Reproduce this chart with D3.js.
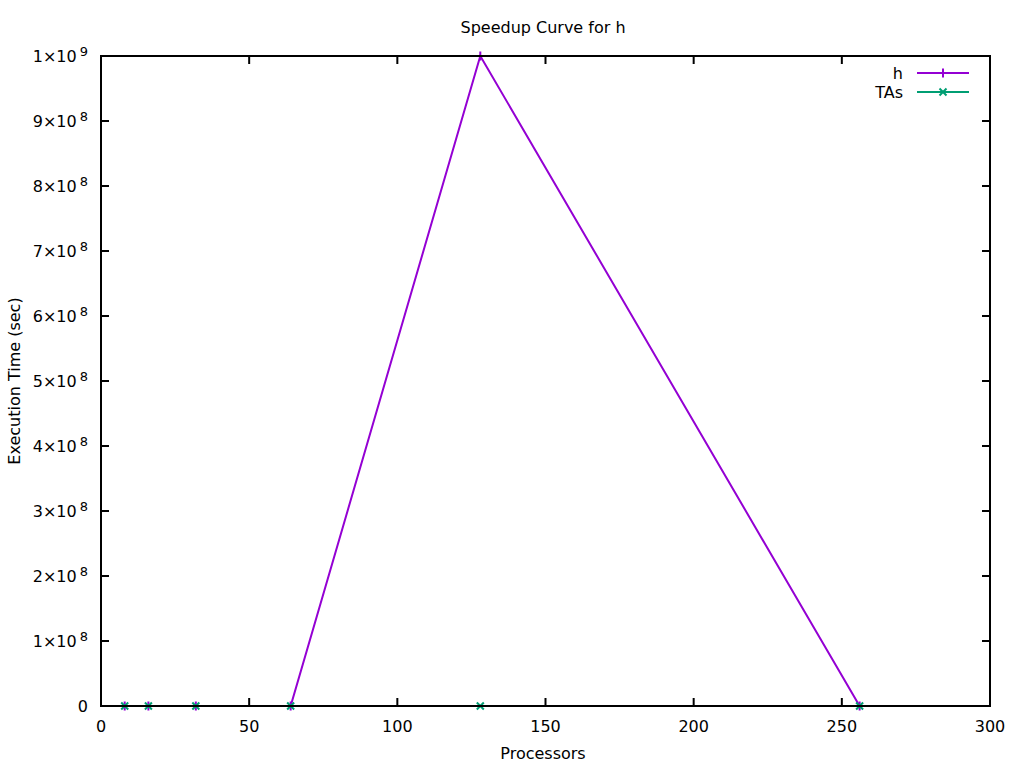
<!DOCTYPE html>
<html>
<head>
<meta charset="utf-8">
<script src="https://cdn.jsdelivr.net/npm/d3@7"></script>
<style>
  body { margin: 0; background: #fff; }
  text { font-family: "DejaVu Sans", sans-serif; font-size: 16px; fill: #000; }
</style>
</head>
<body>
<svg id="chart" width="1024" height="768"></svg>
<script>
var processors = [8, 16, 32, 64, 128, 256];
var hTimes = [0, 0, 0, 0, 1e9, 0];
var taTimes = [0, 0, 0, 0, 0, 0];
var xTicks = [0, 50, 100, 150, 200, 250, 300];
var yTicks = [0, 1e8, 2e8, 3e8, 4e8, 5e8, 6e8, 7e8, 8e8, 9e8, 1e9];

var plotLeft = 101, plotRight = 990, plotTop = 56, plotBottom = 706;
var tickLen = 8;

var svg = d3.select("#chart");
var x = d3.scaleLinear().domain([0, 300]).range([plotLeft, plotRight]);
var y = d3.scaleLinear().domain([0, 1e9]).range([plotBottom, plotTop]);

var series = [
  { name: "h", color: "#9400d3", marker: "plus", values: hTimes },
  { name: "TAs", color: "#009e73", marker: "cross", values: taTimes }
];

// title and axis labels
svg.append("text").attr("x", 543).attr("y", 33)
  .attr("text-anchor", "middle").text("Speedup Curve for h");
svg.append("text").attr("x", 543).attr("y", 759)
  .attr("text-anchor", "middle").text("Processors");
svg.append("text")
  .attr("transform", "translate(20," + ((plotTop + plotBottom) / 2) + ") rotate(-90)")
  .attr("text-anchor", "middle").text("Execution Time (sec)");

// series
var line = d3.line()
  .x(function(d) { return x(d[0]); })
  .y(function(d) { return y(d[1]); });

function drawMarker(g, cx, cy, kind, color) {
  var s = kind == "plus" ? 4.5 : 3.5;
  var p = kind == "plus"
    ? "M" + (cx - s) + "," + cy + "H" + (cx + s) + "M" + cx + "," + (cy - s) + "V" + (cy + s)
    : "M" + (cx - s) + "," + (cy - s) + "L" + (cx + s) + "," + (cy + s) +
      "M" + (cx - s) + "," + (cy + s) + "L" + (cx + s) + "," + (cy - s);
  g.append("path").attr("d", p).attr("stroke", color)
    .attr("stroke-width", 2).attr("fill", "none");
}

series.forEach(function(s) {
  var pts = processors.map(function(p, i) { return [p, s.values[i]]; });
  var g = svg.append("g");
  g.append("path").datum(pts).attr("d", line)
    .attr("fill", "none").attr("stroke", s.color).attr("stroke-width", 2);
  pts.forEach(function(d) {
    drawMarker(g, x(d[0]), y(d[1]), s.marker, s.color);
  });
});

// border
svg.append("rect").attr("x", plotLeft).attr("y", plotTop)
  .attr("width", plotRight - plotLeft).attr("height", plotBottom - plotTop)
  .attr("fill", "none").attr("stroke", "#000").attr("stroke-width", 2);

// x ticks (bottom and mirrored top)
xTicks.forEach(function(t) {
  var xp = x(t);
  if (t > 0 && t < 300) {
    svg.append("line").attr("x1", xp).attr("x2", xp)
      .attr("y1", plotBottom).attr("y2", plotBottom - tickLen)
      .attr("stroke", "#000").attr("stroke-width", 2);
    svg.append("line").attr("x1", xp).attr("x2", xp)
      .attr("y1", plotTop).attr("y2", plotTop + tickLen)
      .attr("stroke", "#000").attr("stroke-width", 2);
  }
  svg.append("text").attr("x", xp).attr("y", plotBottom + 26)
    .attr("text-anchor", "middle").text(t);
});

// y ticks (left and mirrored right)
yTicks.forEach(function(t) {
  var yp = y(t);
  if (t > 0 && t < 1e9) {
    svg.append("line").attr("x1", plotLeft).attr("x2", plotLeft + tickLen)
      .attr("y1", yp).attr("y2", yp)
      .attr("stroke", "#000").attr("stroke-width", 2);
    svg.append("line").attr("x1", plotRight).attr("x2", plotRight - tickLen)
      .attr("y1", yp).attr("y2", yp)
      .attr("stroke", "#000").attr("stroke-width", 2);
  }
  var label = svg.append("text").attr("x", 88).attr("y", yp + 6)
    .attr("text-anchor", "end");
  if (t == 0) {
    label.text("0");
  } else {
    var exp = Math.floor(Math.log10(t) + 1e-9);
    var mant = Math.round(t / Math.pow(10, exp));
    label.append("tspan").text(mant + "\u00d710");
    label.append("tspan").attr("dx", 3).attr("dy", -6).attr("font-size", "13px").text(exp);
  }
});

// legend
series.forEach(function(s, i) {
  var ly = 73 + i * 19;
  svg.append("text").attr("x", 903).attr("y", ly + 6)
    .attr("text-anchor", "end").text(s.name);
  svg.append("line").attr("x1", 917).attr("x2", 969)
    .attr("y1", ly).attr("y2", ly)
    .attr("stroke", s.color).attr("stroke-width", 2);
  drawMarker(svg, 943, ly, s.marker, s.color);
});
</script>
</body>
</html>
